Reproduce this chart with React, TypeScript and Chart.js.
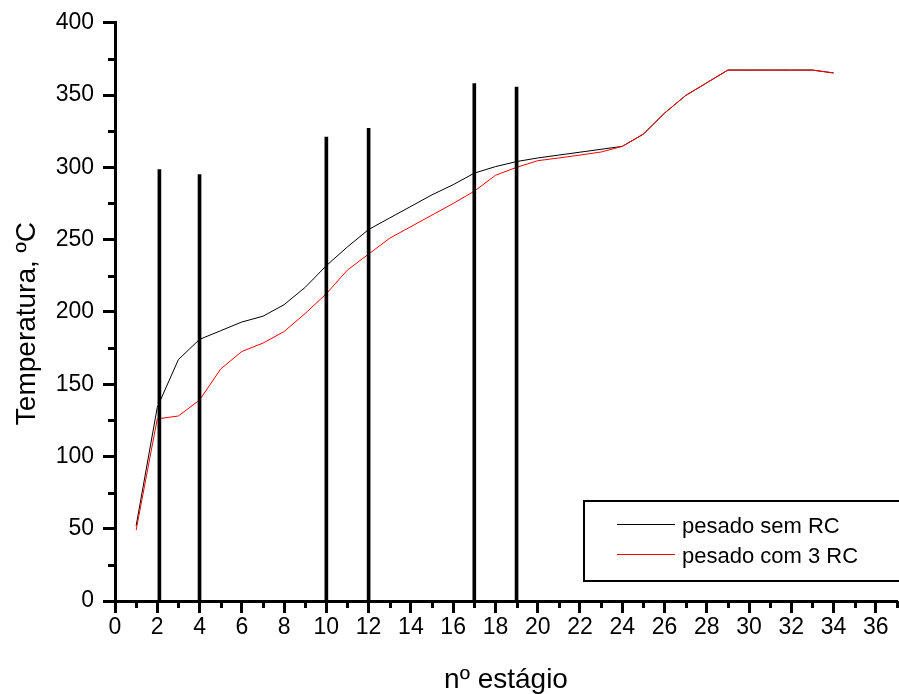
import React, { useEffect, useRef } from "react";
import { Chart, registerables } from "chart.js";

Chart.register(...registerables);

const stages = [1, 2, 3, 4, 5, 6, 7, 8, 9, 10, 11, 12, 13, 14, 15, 16, 17, 18, 19, 20, 21, 22, 23, 24, 25, 26, 27, 28, 29, 30, 31, 32, 33, 34];
const semRC = [52, 134, 167, 181, 187, 193, 197, 205, 217, 232, 245, 257, 265, 273, 281, 288, 296, 300.5, 304, 306.5, 308.5, 310.5, 312.5, 314.5, 323, 337.5, 349.7, 358.5, 367.3, 367.3, 367.3, 367.3, 367.3, 365.3];
const com3RC = [49, 126, 128, 139, 160.5, 172.6, 178.4, 186.4, 198.9, 212.6, 229, 240, 251, 259, 267, 275, 283.5, 294.5, 300, 304.6, 306.5, 308.5, 310.6, 314.5, 323, 337.5, 349.7, 358.5, 367.3, 367.3, 367.3, 367.3, 367.3, 365.3];
const barStages = [2.1, 4, 10, 12, 17, 19];
const barValues = [298.5, 295, 321, 327, 358, 355.5];
const legendLabels = ["pesado sem RC", "pesado com 3 RC"];
const legendColors = ["#000000", "#ff0000"];
const xTitle = "nº estágio";
const yTitle = "Temperatura, ºC";

const FONT = "'Liberation Sans', Arial, sans-serif";

const minorTicks = {
  id: "minorTicks",
  afterDatasetsDraw(chart: any) {
    const ctx = chart.ctx;
    const xs = chart.scales.x;
    const ys = chart.scales.y;
    ctx.save();
    ctx.strokeStyle = "#000";
    ctx.lineWidth = 3;
    ctx.beginPath();
    for (let v = 1; v <= 37; v += 2) {
      const px = Math.round(xs.getPixelForValue(v)) + 0.5;
      ctx.moveTo(px, xs.top);
      ctx.lineTo(px, xs.top + 7);
    }
    for (let v = 25; v <= 400; v += 50) {
      const py = Math.round(ys.getPixelForValue(v)) + 0.5;
      ctx.moveTo(ys.right - 7, py);
      ctx.lineTo(ys.right, py);
    }
    ctx.stroke();
    ctx.restore();
  },
};

const boxLegend = {
  id: "boxLegend",
  afterDraw(chart: any) {
    const ctx = chart.ctx;
    ctx.save();
    ctx.strokeStyle = "#000";
    ctx.lineWidth = 2;
    ctx.strokeRect(584, 501, 330, 80);
    ctx.font = `22px ${FONT}`;
    ctx.textBaseline = "alphabetic";
    ctx.textAlign = "left";
    const ys = [533, 563];
    legendLabels.forEach((lab, i) => {
      ctx.strokeStyle = legendColors[i];
      ctx.lineWidth = 1;
      ctx.beginPath();
      ctx.moveTo(617, ys[i] - 8.5);
      ctx.lineTo(675, ys[i] - 8.5);
      ctx.stroke();
      ctx.fillStyle = "#000";
      ctx.fillText(lab, 682, ys[i]);
    });
    ctx.restore();
  },
};

export default function App() {
  const ref = useRef<HTMLCanvasElement>(null);
  useEffect(() => {
    const canvas = ref.current!;
    Chart.defaults.font.family = FONT;
    Chart.defaults.color = "#000";
    const chart = new Chart(canvas, {
      type: "bar",
      data: {
        datasets: [
          {
            type: "bar",
            label: "bars",
            data: barStages.map((x, i) => ({ x, y: barValues[i] })),
            backgroundColor: "#000",
            barThickness: 3,
            order: 0,
          } as any,
          {
            type: "line",
            label: legendLabels[1],
            data: stages.map((x, i) => ({ x, y: com3RC[i] })),
            borderColor: legendColors[1],
            borderWidth: 1,
            pointRadius: 0,
            tension: 0,
            order: 1,
          },
          {
            type: "line",
            label: legendLabels[0],
            data: stages.map((x, i) => ({ x, y: semRC[i] })),
            borderColor: legendColors[0],
            borderWidth: 1,
            pointRadius: 0,
            tension: 0,
            order: 2,
          },
        ],
      },
      options: {
        responsive: false,
        animation: false,
        devicePixelRatio: 1,
        layout: { padding: { top: 21, right: 2, left: 0, bottom: 0 } },
        plugins: { legend: { display: false }, tooltip: { enabled: false } },
        scales: {
          x: {
            type: "linear",
            min: 0,
            max: 37,
            offset: false,
            afterFit(scale: any) {
              scale.height = 93;
            },
            border: { display: true, color: "#000", width: 3 },
            grid: {
              offset: false,
              drawOnChartArea: false,
              drawTicks: true,
              tickLength: 12,
              tickWidth: 3,
              tickColor: (c: any) => (c.tick && c.tick.value % 2 === 0 ? "#000" : "rgba(0,0,0,0)"),
            },
            ticks: {
              stepSize: 1,
              autoSkip: false,
              maxRotation: 0,
              padding: 1,
              font: { size: 23 },
              callback: (v: any) => (Number(v) % 2 === 0 ? String(v) : ""),
            },
            title: {
              display: true,
              text: xTitle,
              font: { size: 28 },
              padding: { top: 0, bottom: -3 },
            },
          },
          y: {
            type: "linear",
            min: 0,
            max: 400,
            afterFit(scale: any) {
              scale.width = 115;
            },
            border: { display: true, color: "#000", width: 3 },
            grid: {
              drawOnChartArea: false,
              drawTicks: true,
              tickLength: 12,
              tickWidth: 3,
              tickColor: (c: any) => (c.tick && c.tick.value % 50 === 0 ? "#000" : "rgba(0,0,0,0)"),
            },
            ticks: {
              stepSize: 25,
              autoSkip: false,
              padding: 9,
              font: { size: 23 },
              callback: (v: any) => (Number(v) % 50 === 0 ? String(v) : ""),
            },
            title: {
              display: true,
              text: yTitle + "   ",
              font: { size: 28 },
              padding: { top: 10, bottom: 0 },
            },
          },
        },
      },
      plugins: [minorTicks, boxLegend],
    } as any);
    return () => chart.destroy();
  }, []);
  return (
    <div style={{ position: "absolute", left: 0, top: 0, width: 899, height: 694 }}>
      <canvas ref={ref} width={899} height={694} />
    </div>
  );
}
